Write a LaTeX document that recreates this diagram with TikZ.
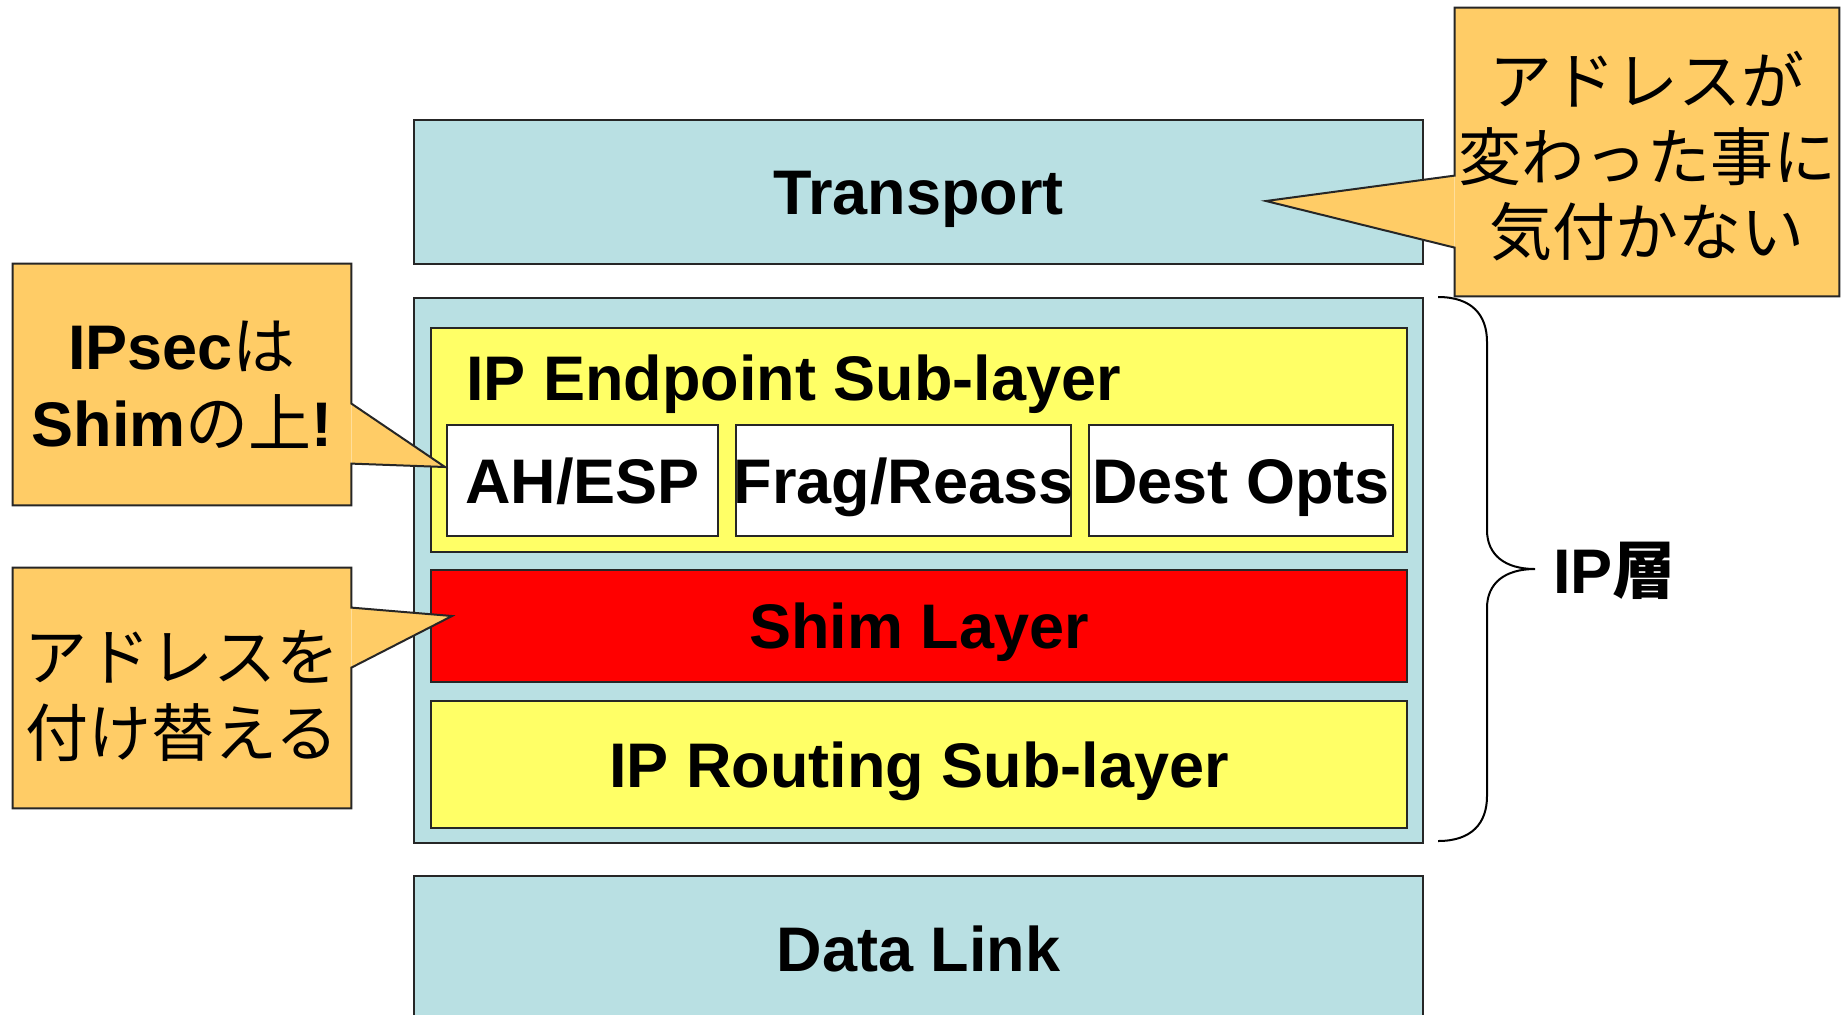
\documentclass[tikz,border=0pt]{standalone}
\usepackage{fontspec}
\setmainfont{Liberation Sans}
\newfontfamily\jpfont{Noto Sans CJK JP}
\usetikzlibrary{positioning}
\definecolor{cblue}{HTML}{B9E0E3}
\definecolor{cyellow}{HTML}{FFFF66}
\definecolor{cred}{HTML}{FF0000}
\definecolor{corange}{HTML}{FFCC66}
\definecolor{cline}{HTML}{262626}

\begin{document}
\begin{tikzpicture}[x=0.5pt, y=-0.5pt, font=\fontsize{31.5}{38}\selectfont,
  layer/.style={draw=cline, line width=1pt, inner sep=0pt, text height=22.5pt, text depth=0pt,
    font=\fontsize{31.5}{38}\selectfont\bfseries},
  outer/.style={layer, fill=cblue, minimum width=504.5pt},
  sub/.style={layer, fill=cyellow, minimum width=488pt},
  part/.style={layer, fill=white, minimum height=55.5pt},
  note/.style={fill=corange, inner sep=0pt, align=center},
  rim/.style={draw=cline, line width=1pt},
  brace/.style={draw=black, line width=1pt}]
\useasboundingbox (0,0) rectangle (1841,1014);
% the stack of layers
\node[outer, minimum height=72pt] (transport) at (918.5,192) {Transport};
\node[outer, minimum height=272.5pt, below=16pt of transport] (iplayer) {};
\node[outer, minimum height=73pt, below=15.5pt of iplayer] (datalink) {Data Link};
% inside the IP layer
\node[sub, minimum height=112pt] (endpoint) at (919,440) {};
\node[anchor=base west, inner sep=0pt, font=\fontsize{31.5}{38}\selectfont\bfseries] (eptitle) at (466,400) {IP Endpoint Sub-layer};
\node[part, minimum width=135.5pt] (ahesp) at (582.5,480.5) {AH/ESP};
\node[part, minimum width=167.5pt, inner xsep=-2pt, right=8pt of ahesp] (frag) {Frag/Reass};
\node[part, minimum width=152pt, right=8pt of frag] (destopt) {Dest Opts};
\node[sub, fill=cred, minimum height=56pt, below=8pt of endpoint] (shim) {Shim Layer};
\node[sub, minimum height=63.5pt, below=8.5pt of shim] (routing) {IP Routing Sub-layer};
% brace and its label
\coordinate (brtop) at (1438,297);
\coordinate (brtip) at (1535,569);
\coordinate (brbot) at (1438,841);
\draw[brace] (brtop) .. controls (1472,297) and (1487,315) .. (1487,342) -- (1487,530)
  .. controls (1487,555) and (1505,569) .. (brtip)
  .. controls (1505,569) and (1487,583) .. (1487,608) -- (1487,796)
  .. controls (1487,823) and (1472,841) .. (brbot);
\node[anchor=west, inner sep=0pt, font=\fontsize{31.5}{38}\selectfont\bfseries] (iplabel) at (1553,571) {IP{\jpfont 層}};
% callouts
\node[note, minimum width=192pt, minimum height=144pt, font=\jpfont\fontsize{31.5}{37.5}\selectfont] (warn) at (1647,152)
  {\raisebox{-6.5pt}[\height][\depth]{\begin{tabular}{@{}c@{}}アドレスが\\変わった事に\\気付かない\end{tabular}}};
\coordinate (warntip) at (1266,201);
\fill[corange] ([yshift=-84pt]warn.north west) -- (warntip) -- ([yshift=-120pt]warn.north west) -- cycle;
\draw[rim] (warn.north west) -- (warn.north east) -- (warn.south east) -- (warn.south west)
  -- ([yshift=-120pt]warn.north west) -- (warntip) -- ([yshift=-84pt]warn.north west) -- cycle;

\node[note, minimum width=169pt, minimum height=120.5pt, font=\fontsize{31.5}{38.5}\selectfont\bfseries] (ipsec) at (182,384.5) {IPsec{\jpfont\mdseries は}\\Shim{\jpfont\mdseries の上}!};
\coordinate (ipsectip) at (445,467);
\fill[corange] ([yshift=-70pt]ipsec.north east) -- (ipsectip) -- ([yshift=-100pt]ipsec.north east) -- cycle;
\draw[rim] (ipsec.north east) -- (ipsec.north west) -- (ipsec.south west) -- (ipsec.south east)
  -- ([yshift=-100pt]ipsec.north east) -- (ipsectip) -- ([yshift=-70pt]ipsec.north east) -- cycle;

\node[note, minimum width=169pt, minimum height=120pt, font=\jpfont\fontsize{31.5}{38}\selectfont] (swap) at (182,688)
  {\raisebox{-7.5pt}[\height][\depth]{\begin{tabular}{@{}c@{}}アドレスを\\付け替える\end{tabular}}};
\coordinate (swaptip) at (452,616);
\fill[corange] ([yshift=-20pt]swap.north east) -- (swaptip) -- ([yshift=-50pt]swap.north east) -- cycle;
\draw[rim] (swap.north east) -- (swap.north west) -- (swap.south west) -- (swap.south east)
  -- ([yshift=-50pt]swap.north east) -- (swaptip) -- ([yshift=-20pt]swap.north east) -- cycle;
\end{tikzpicture}
\end{document}
